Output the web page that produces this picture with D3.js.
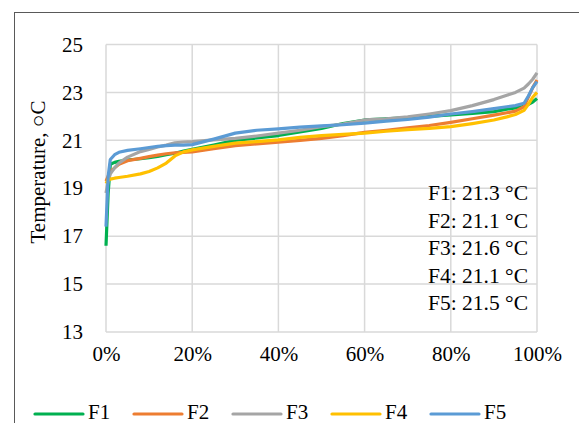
<!DOCTYPE html>
<html><head><meta charset="utf-8">
<script src="https://cdn.jsdelivr.net/npm/d3@7"></script>
<style>body{margin:0;background:#fff}svg{display:block}text{font-family:'Liberation Serif','Times New Roman',serif}</style>
</head><body>
<script>
const xPct = [0,0.5,1,2,3,5,8,10,12,14,16,18,20,25,30,35,40,45,50,55,60,65,70,75,80,85,90,93,95,97,98,99,100];
const F1 = [16.6,18.8,20.0,20.08,20.12,20.18,20.23,20.28,20.33,20.4,20.46,20.55,20.62,20.8,21.0,21.1,21.2,21.35,21.5,21.7,21.85,21.9,21.95,22.0,22.06,22.12,22.2,22.3,22.35,22.42,22.5,22.6,22.75];
const F2 = [19.3,19.5,19.7,19.85,20.0,20.15,20.25,20.32,20.38,20.44,20.48,20.5,20.52,20.65,20.78,20.85,20.92,21.0,21.08,21.2,21.33,21.42,21.52,21.62,21.75,21.9,22.05,22.15,22.22,22.4,22.8,23.2,23.52];
const F3 = [18.8,19.3,19.6,19.85,20.05,20.3,20.53,20.62,20.72,20.8,20.9,20.93,20.95,21.02,21.08,21.18,21.3,21.42,21.57,21.68,21.85,21.9,21.98,22.1,22.24,22.45,22.7,22.88,23.0,23.18,23.35,23.55,23.82];
const F4 = [19.2,19.35,19.38,19.42,19.45,19.5,19.6,19.7,19.85,20.05,20.35,20.52,20.6,20.75,20.88,20.95,21.02,21.12,21.2,21.25,21.3,21.38,21.45,21.5,21.57,21.7,21.85,21.98,22.08,22.25,22.5,22.8,23.0];
const F5 = [17.4,19.5,20.2,20.4,20.5,20.58,20.65,20.7,20.75,20.78,20.8,20.8,20.82,21.05,21.3,21.42,21.48,21.55,21.6,21.65,21.72,21.8,21.87,21.97,22.1,22.2,22.32,22.4,22.45,22.55,22.85,23.2,23.45];
const seriesNames = ["F1","F2","F3","F4","F5"];
const seriesColors = ["#00B050","#ED7D31","#A5A5A5","#FFC000","#5B9BD5"];
const averages = ["F1: 21.3 °C","F2: 21.1 °C","F3: 21.6 °C","F4: 21.1 °C","F5: 21.5 °C"];
const yTicks = [13,15,17,19,21,23,25];
const xTicks = [0,20,40,60,80,100];
const yTitle = "Temperature, ○C";

const W = 579, H = 423;
const font = "'Liberation Serif','Times New Roman',serif";
const svg = d3.select("body").append("svg").attr("width", W).attr("height", H);

// outer chart border
svg.append("rect").attr("x",14.5).attr("y",12.5).attr("width",700).attr("height",600)
  .attr("fill","none").attr("stroke","#595959").attr("stroke-width",1);

const L = 106, R = 537, T = 44.5, B = 332;
const x = d3.scaleLinear().domain([0,100]).range([L,R]);
const y = d3.scaleLinear().domain([13,25]).range([B,T]);

// gridlines
const g = svg.append("g");
g.selectAll(".hg").data(yTicks).join("line")
  .attr("x1",L).attr("x2",R).attr("y1",d=>y(d)).attr("y2",d=>y(d))
  .attr("stroke","#D9D9D9").attr("stroke-width",1.5);
g.selectAll(".vg").data(xTicks).join("line")
  .attr("y1",T).attr("y2",B).attr("x1",d=>x(d)).attr("x2",d=>x(d))
  .attr("stroke","#D9D9D9").attr("stroke-width",1.5);

// axes labels via d3 axes
const yAxis = svg.append("g").attr("transform",`translate(${L},0)`)
  .call(d3.axisLeft(y).tickValues(yTicks).tickSize(0).tickPadding(23).tickFormat(d3.format("d")));
const xAxis = svg.append("g").attr("transform",`translate(0,${B})`)
  .call(d3.axisBottom(x).tickValues(xTicks).tickSize(0).tickPadding(14).tickFormat(d=>d+"%"));
[yAxis,xAxis].forEach(a=>{
  a.attr("font-family",null).attr("font-size",null);
  a.select(".domain").remove();
  a.selectAll("text").style("font-family",font).style("font-size","21px").attr("fill","#000");
});

// lines
const all = [F1,F2,F3,F4,F5];
const line = d3.line().x((d,i)=>x(xPct[i])).y(d=>y(d));
svg.append("g").selectAll("path").data(all).join("path")
  .attr("d",d=>line(d)).attr("fill","none")
  .attr("stroke",(d,i)=>seriesColors[i]).attr("stroke-width",3.2)
  .attr("stroke-linejoin","round");

// averages annotation
svg.append("g").selectAll("text").data(averages).join("text")
  .attr("x",528).attr("y",(d,i)=>200+i*27.5)
  .attr("text-anchor","end").style("font-family",font).style("font-size","21.5px").attr("fill","#000")
  .text(d=>d);

// y title
svg.append("text").attr("transform","translate(45,172) rotate(-90)")
  .attr("text-anchor","middle").style("font-family",font).style("font-size","21px").attr("fill","#000")
  .text(yTitle);

// legend
const lg = svg.append("g").selectAll("g").data(seriesNames).join("g")
  .attr("transform",(d,i)=>`translate(${35+i*99},0)`);
lg.append("line").attr("x1",0).attr("x2",48).attr("y1",414).attr("y2",414)
  .attr("stroke",(d,i)=>seriesColors[i]).attr("stroke-width",3.2).attr("stroke-linecap","round");
lg.append("text").attr("x",53).attr("y",419).style("font-family",font).style("font-size","21px")
  .attr("fill","#000").text(d=>d);
</script>
</body></html>
